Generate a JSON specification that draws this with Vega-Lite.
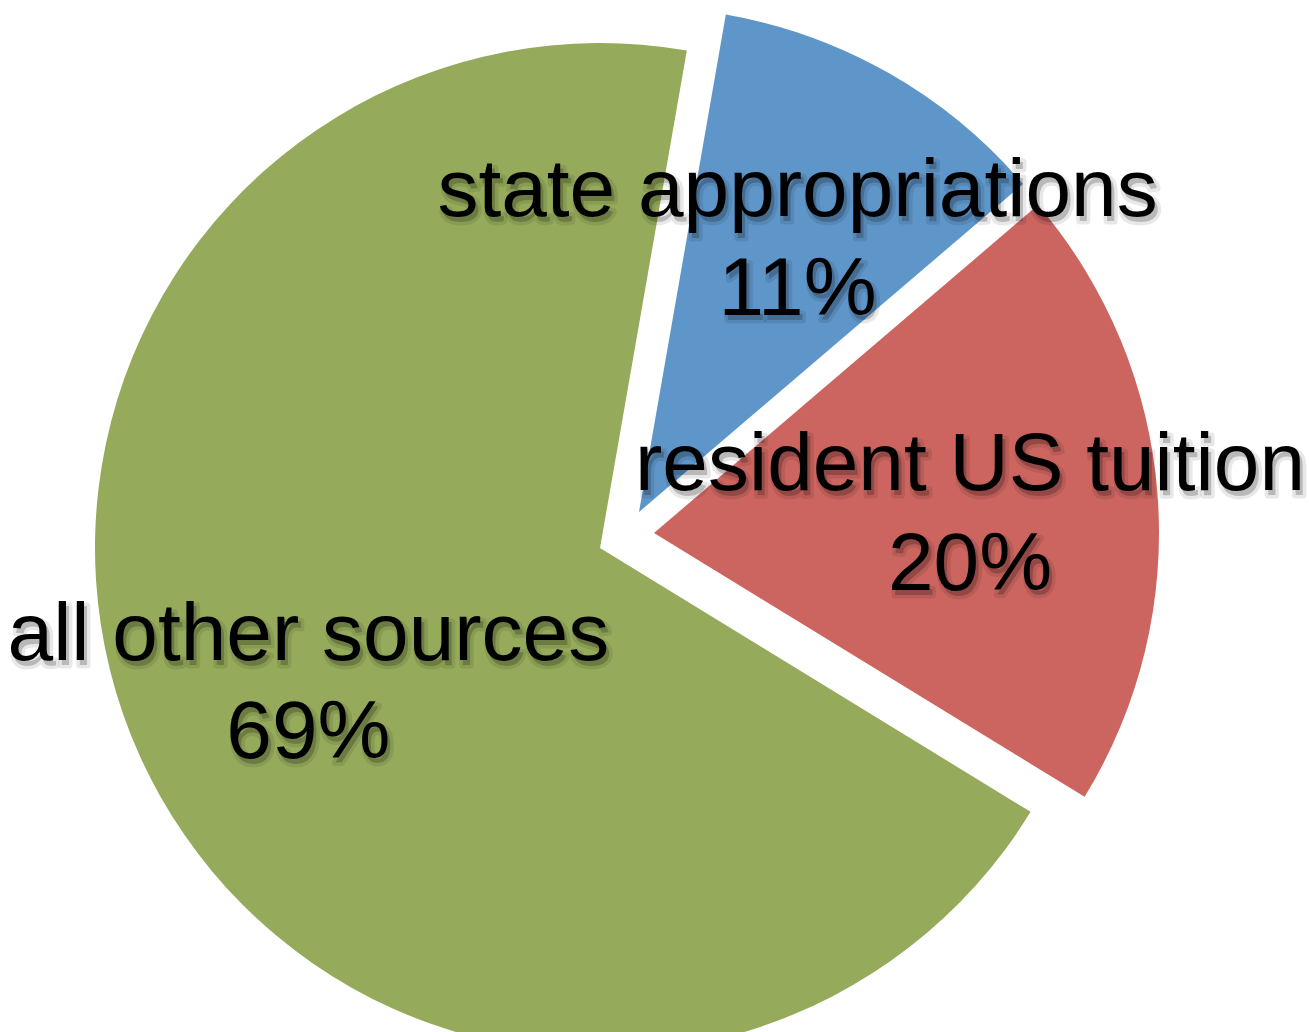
{
  "$schema": "https://vega.github.io/schema/vega-lite/v6.json",
  "autosize": "none",
  "width": 1200,
  "height": 968,
  "padding": {"left": 0, "top": 64, "right": 109, "bottom": 0},
  "background": "white",
  "config": {"view": {"stroke": null}},
  "data": {"values": [
    {"source": "state appropriations", "share": 0.11, "order": 1},
    {"source": "resident US tuition", "share": 0.20, "order": 2},
    {"source": "all other sources", "share": 0.69, "order": 3}
  ]},
  "transform": [
    {"stack": "share", "groupby": [], "sort": [{"field": "order"}], "as": ["v0", "v1"]}
  ],
  "layer": [
    {
      "transform": [{"filter": "datum.order == 1"}],
      "mark": {"type": "arc", "outerRadius": 505, "xOffset": 39, "yOffset": -36},
      "encoding": {
        "theta": {"field": "v0", "type": "quantitative", "scale": {"domain": [0, 1], "range": [0.1728, 6.456]}},
        "theta2": {"field": "v1"},
        "color": {"field": "source", "type": "nominal", "legend": null,
          "scale": {"domain": ["state appropriations", "resident US tuition", "all other sources"], "range": ["#5F96CA", "#CC655F", "#95AB5B"]}}
      }
    },
    {
      "transform": [{"filter": "datum.order == 2"}],
      "mark": {"type": "arc", "outerRadius": 505, "xOffset": 54, "yOffset": -15},
      "encoding": {
        "theta": {"field": "v0", "type": "quantitative", "scale": {"domain": [0, 1], "range": [0.1728, 6.456]}},
        "theta2": {"field": "v1"},
        "color": {"field": "source", "type": "nominal", "legend": null,
          "scale": {"domain": ["state appropriations", "resident US tuition", "all other sources"], "range": ["#5F96CA", "#CC655F", "#95AB5B"]}}
      }
    },
    {
      "transform": [{"filter": "datum.order == 3"}],
      "mark": {"type": "arc", "outerRadius": 505, "xOffset": 0, "yOffset": 0},
      "encoding": {
        "theta": {"field": "v0", "type": "quantitative", "scale": {"domain": [0, 1], "range": [0.1728, 6.456]}},
        "theta2": {"field": "v1"},
        "color": {"field": "source", "type": "nominal", "legend": null,
          "scale": {"domain": ["state appropriations", "resident US tuition", "all other sources"], "range": ["#5F96CA", "#CC655F", "#95AB5B"]}}
      }
    },

    {
      "mark": {"type": "text", "radius": 320, "font": "Liberation Sans", "fontSize": 82, "align": "center", "baseline": "alphabetic", "xOffset": 42, "yOffset": -31, "dy": -18, "fill": "#000", "fillOpacity": 0.2, "stroke": "#000", "strokeWidth": 7, "strokeOpacity": 0.09, "strokeJoin": "round"},
      "encoding": {
        "theta": {"field": "share", "type": "quantitative", "stack": true, "scale": {"domain": [0, 1], "range": [0.1728, 6.456]}},
        "order": {"field": "order"},
        "text": {"condition": {"test": "datum.order == 1", "field": "source"}, "value": ""}
      }
    },
    {
      "mark": {"type": "text", "radius": 320, "font": "Liberation Sans", "fontSize": 82, "align": "center", "baseline": "alphabetic", "xOffset": 42, "yOffset": -31, "dy": 81, "fill": "#000", "fillOpacity": 0.2, "stroke": "#000", "strokeWidth": 7, "strokeOpacity": 0.09, "strokeJoin": "round"},
      "encoding": {
        "theta": {"field": "share", "type": "quantitative", "stack": true, "scale": {"domain": [0, 1], "range": [0.1728, 6.456]}},
        "order": {"field": "order"},
        "text": {"condition": {"test": "datum.order == 1", "field": "share", "type": "quantitative", "format": ".0%"}, "value": ""}
      }
    },
    {
      "mark": {"type": "text", "radius": 320, "font": "Liberation Sans", "fontSize": 82, "align": "center", "baseline": "alphabetic", "xOffset": 54, "yOffset": -10, "dy": -18, "fill": "#000", "fillOpacity": 0.2, "stroke": "#000", "strokeWidth": 7, "strokeOpacity": 0.09, "strokeJoin": "round"},
      "encoding": {
        "theta": {"field": "share", "type": "quantitative", "stack": true, "scale": {"domain": [0, 1], "range": [0.1728, 6.456]}},
        "order": {"field": "order"},
        "text": {"condition": {"test": "datum.order == 2", "field": "source"}, "value": ""}
      }
    },
    {
      "mark": {"type": "text", "radius": 320, "font": "Liberation Sans", "fontSize": 82, "align": "center", "baseline": "alphabetic", "xOffset": 54, "yOffset": -10, "dy": 82, "fill": "#000", "fillOpacity": 0.2, "stroke": "#000", "strokeWidth": 7, "strokeOpacity": 0.09, "strokeJoin": "round"},
      "encoding": {
        "theta": {"field": "share", "type": "quantitative", "stack": true, "scale": {"domain": [0, 1], "range": [0.1728, 6.456]}},
        "order": {"field": "order"},
        "text": {"condition": {"test": "datum.order == 2", "field": "share", "type": "quantitative", "format": ".0%"}, "value": ""}
      }
    },
    {
      "mark": {"type": "text", "radius": 320, "font": "Liberation Sans", "fontSize": 82, "align": "center", "baseline": "alphabetic", "xOffset": 3, "yOffset": 5, "dy": -20, "fill": "#000", "fillOpacity": 0.2, "stroke": "#000", "strokeWidth": 7, "strokeOpacity": 0.09, "strokeJoin": "round"},
      "encoding": {
        "theta": {"field": "share", "type": "quantitative", "stack": true, "scale": {"domain": [0, 1], "range": [0.1728, 6.456]}},
        "order": {"field": "order"},
        "text": {"condition": {"test": "datum.order == 3", "field": "source"}, "value": ""}
      }
    },
    {
      "mark": {"type": "text", "radius": 320, "font": "Liberation Sans", "fontSize": 82, "align": "center", "baseline": "alphabetic", "xOffset": 3, "yOffset": 5, "dy": 78, "fill": "#000", "fillOpacity": 0.2, "stroke": "#000", "strokeWidth": 7, "strokeOpacity": 0.09, "strokeJoin": "round"},
      "encoding": {
        "theta": {"field": "share", "type": "quantitative", "stack": true, "scale": {"domain": [0, 1], "range": [0.1728, 6.456]}},
        "order": {"field": "order"},
        "text": {"condition": {"test": "datum.order == 3", "field": "share", "type": "quantitative", "format": ".0%"}, "value": ""}
      }
    },

    {
      "mark": {"type": "text", "radius": 320, "font": "Liberation Sans", "fontSize": 82, "align": "center", "baseline": "alphabetic", "xOffset": 39, "yOffset": -36, "dy": -18, "fill": "#000"},
      "encoding": {
        "theta": {"field": "share", "type": "quantitative", "stack": true, "scale": {"domain": [0, 1], "range": [0.1728, 6.456]}},
        "order": {"field": "order"},
        "text": {"condition": {"test": "datum.order == 1", "field": "source"}, "value": ""}
      }
    },
    {
      "mark": {"type": "text", "radius": 320, "font": "Liberation Sans", "fontSize": 82, "align": "center", "baseline": "alphabetic", "xOffset": 39, "yOffset": -36, "dy": 81, "fill": "#000"},
      "encoding": {
        "theta": {"field": "share", "type": "quantitative", "stack": true, "scale": {"domain": [0, 1], "range": [0.1728, 6.456]}},
        "order": {"field": "order"},
        "text": {"condition": {"test": "datum.order == 1", "field": "share", "type": "quantitative", "format": ".0%"}, "value": ""}
      }
    },
    {
      "mark": {"type": "text", "radius": 320, "font": "Liberation Sans", "fontSize": 82, "align": "center", "baseline": "alphabetic", "xOffset": 51, "yOffset": -15, "dy": -18, "fill": "#000"},
      "encoding": {
        "theta": {"field": "share", "type": "quantitative", "stack": true, "scale": {"domain": [0, 1], "range": [0.1728, 6.456]}},
        "order": {"field": "order"},
        "text": {"condition": {"test": "datum.order == 2", "field": "source"}, "value": ""}
      }
    },
    {
      "mark": {"type": "text", "radius": 320, "font": "Liberation Sans", "fontSize": 82, "align": "center", "baseline": "alphabetic", "xOffset": 51, "yOffset": -15, "dy": 82, "fill": "#000"},
      "encoding": {
        "theta": {"field": "share", "type": "quantitative", "stack": true, "scale": {"domain": [0, 1], "range": [0.1728, 6.456]}},
        "order": {"field": "order"},
        "text": {"condition": {"test": "datum.order == 2", "field": "share", "type": "quantitative", "format": ".0%"}, "value": ""}
      }
    },
    {
      "mark": {"type": "text", "radius": 320, "font": "Liberation Sans", "fontSize": 82, "align": "center", "baseline": "alphabetic", "xOffset": 0, "yOffset": 0, "dy": -20, "fill": "#000"},
      "encoding": {
        "theta": {"field": "share", "type": "quantitative", "stack": true, "scale": {"domain": [0, 1], "range": [0.1728, 6.456]}},
        "order": {"field": "order"},
        "text": {"condition": {"test": "datum.order == 3", "field": "source"}, "value": ""}
      }
    },
    {
      "mark": {"type": "text", "radius": 320, "font": "Liberation Sans", "fontSize": 82, "align": "center", "baseline": "alphabetic", "xOffset": 0, "yOffset": 0, "dy": 78, "fill": "#000"},
      "encoding": {
        "theta": {"field": "share", "type": "quantitative", "stack": true, "scale": {"domain": [0, 1], "range": [0.1728, 6.456]}},
        "order": {"field": "order"},
        "text": {"condition": {"test": "datum.order == 3", "field": "share", "type": "quantitative", "format": ".0%"}, "value": ""}
      }
    }
  ]
}
